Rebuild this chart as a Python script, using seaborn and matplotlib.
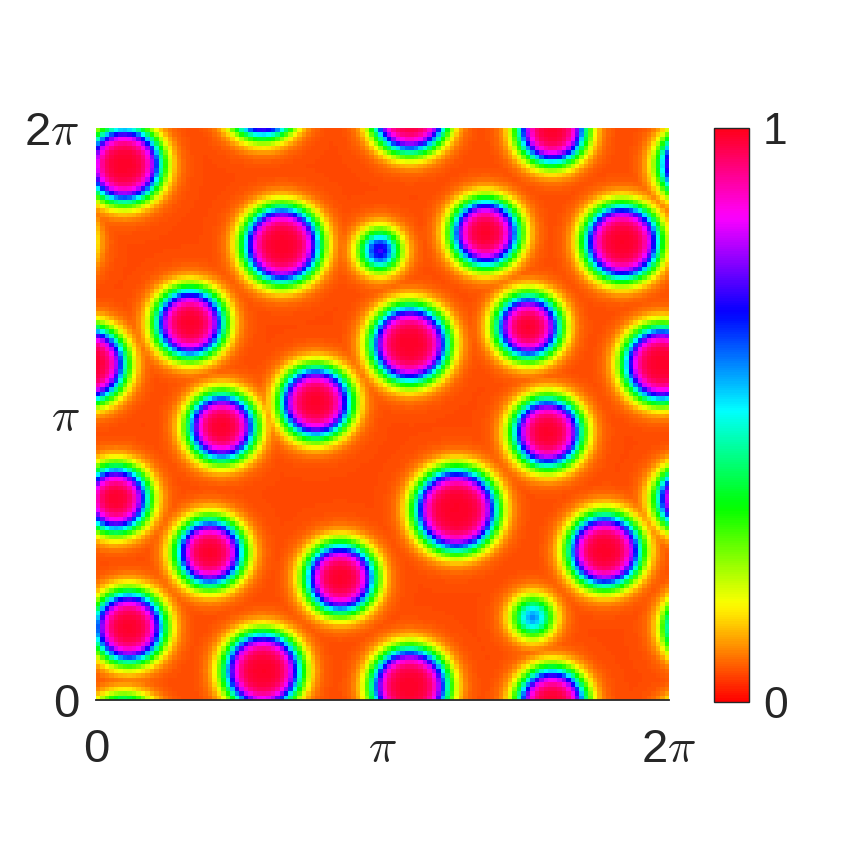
import numpy as np
import pandas as pd
import matplotlib
matplotlib.use("Agg")
import matplotlib.pyplot as plt
import seaborn as sns

# spots: centre (radians), front radius (radians), peak strength
spot_x = [0.31, 1.83, 3.44, 5.00, 2.04, 3.11, 4.27, 5.77, 1.03, 3.44, 4.74, 6.20,
          1.38, 2.41, 4.95, 0.22, 3.95, 1.25, 2.68, 5.58, 0.36, 4.79]
spot_y = [5.88, 0.32, 0.15, 6.26, 5.00, 4.94, 5.13, 5.03, 4.14, 3.91, 4.10, 3.69,
          3.00, 3.27, 2.94, 2.21, 2.09, 1.62, 1.34, 1.64, 0.80, 0.91]
spot_r = [0.385, 0.395, 0.395, 0.345, 0.395, 0.180, 0.340, 0.385, 0.350, 0.395, 0.320, 0.385,
          0.340, 0.360, 0.350, 0.330, 0.428, 0.340, 0.350, 0.372, 0.360, 0.180]
spot_amp = [1.0, 1.0, 1.0, 1.0, 1.0, 0.75, 1.0, 1.0, 1.0, 1.0, 1.0, 1.0,
            1.0, 1.0, 1.0, 1.0, 1.0, 1.0, 1.0, 1.0, 1.0, 0.60]

tick_vals = ['0', r'$\pi$', r'2$\pi$']
cbar_ticks = [0, 1]

background = 0.05
peak = 0.99
w_in, w_out = 0.12, 0.14
n = 128
L = 2 * np.pi

xs = (np.arange(n) + 0.5) / n * L
X, Y = np.meshgrid(xs, xs)
field = np.zeros_like(X)
for cx, cy, r, a in zip(spot_x, spot_y, spot_r, spot_amp):
    dx = np.abs(X - cx)
    dx = np.minimum(dx, L - dx)
    dy = np.abs(Y - cy)
    dy = np.minimum(dy, L - dy)
    s = np.hypot(dx, dy) - r
    w = np.where(s < 0, w_in, w_out)
    f = a * 0.5 * (1 - np.tanh(s / w))
    field = np.maximum(field, f)
phi = background + (peak - background) * field

df = pd.DataFrame(phi[::-1])

sns.set_style("white")
plt.rcParams['font.family'] = ['Liberation Sans', 'DejaVu Sans']
plt.rcParams['mathtext.fontset'] = 'cm'

fig = plt.figure(figsize=(8.6, 8.6), dpi=100)
ax = fig.add_axes([96 / 860, 160 / 860, 573 / 860, 572 / 860])
cax = fig.add_axes([714 / 860, 158 / 860, 35 / 860, 574 / 860])

sns.heatmap(df, ax=ax, cbar_ax=cax, cmap='hsv', vmin=0, vmax=1,
            xticklabels=False, yticklabels=False, cbar_kws={'ticks': cbar_ticks})

txt = '#262626'
ax.set_xticks([0, n / 2, n])
ax.set_xticklabels(tick_vals, va='baseline')
ax.set_yticks([0, n / 2, n])
ax.set_yticklabels(tick_vals[::-1])
ax.spines['bottom'].set_visible(True)
ax.spines['bottom'].set_color('#262626')
ax.spines['bottom'].set_linewidth(1.3)
ax.tick_params(axis='x', direction='in', length=4, width=1, colors='#262626',
               labelsize=34, pad=45, labelcolor=txt)
ax.tick_params(axis='y', length=0, labelsize=34, pad=12, labelcolor=txt)
for lab in ax.get_yticklabels():
    lab.set_rotation(0)

cb = ax.collections[0].colorbar
cb.outline.set_visible(True)
cb.outline.set_linewidth(1)
cb.outline.set_edgecolor('#262626')
cb.set_ticklabels(['0', '1'])
cax.tick_params(length=0, labelsize=32, pad=10, labelcolor=txt)

fig.savefig('out.png', dpi=100)
